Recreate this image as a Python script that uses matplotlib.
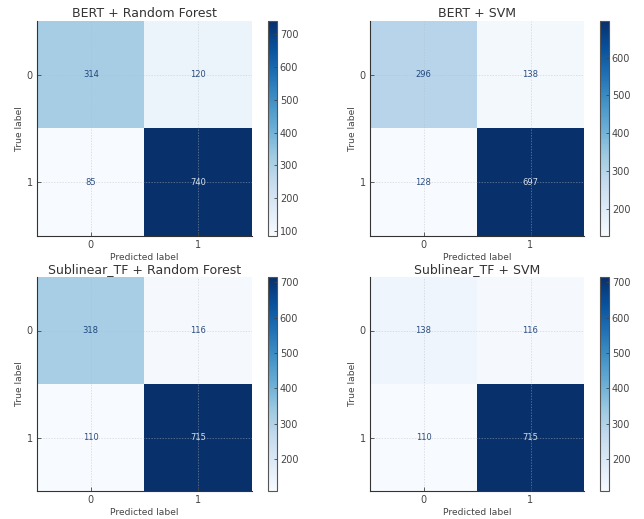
import numpy as np
import matplotlib
matplotlib.use("Agg")
import matplotlib.pyplot as plt

titles = ["BERT + Random Forest", "BERT + SVM",
          "Sublinear_TF + Random Forest", "Sublinear_TF + SVM"]
cm_bert_rf = [[314, 120], [85, 740]]
cm_bert_svm = [[296, 138], [128, 697]]
cm_tf_rf = [[318, 116], [110, 715]]
cm_tf_svm = [[138, 116], [110, 715]]
class_labels = ["0", "1"]
matrices = [cm_bert_rf, cm_bert_svm, cm_tf_rf, cm_tf_svm]

plt.rcParams.update({
    "text.color": "#444444",
    "axes.labelcolor": "#444444",
    "xtick.color": "#444444",
    "ytick.color": "#444444",
    "xtick.direction": "in",
    "ytick.direction": "in",
})

W, H = 644, 519
fig = plt.figure(figsize=(W / 100, H / 100), dpi=100)
cmap = plt.get_cmap("Blues")

# pixel boxes (left, top, width, height)
ax_boxes = [(37, 21, 215, 215), (370, 21, 214, 215),
            (37, 277, 215, 214), (370, 277, 214, 214)]
cb_boxes = [(268, 21, 9, 215), (600, 21, 9, 215),
            (268, 277, 9, 214), (600, 277, 9, 214)]

def to_fig(b):
    l, t, w, h = b
    return [l / W, 1 - (t + h) / H, w / W, h / H]

for cm, title, ab, cb in zip(matrices, titles, ax_boxes, cb_boxes):
    cm = np.array(cm)
    ax = fig.add_axes(to_fig(ab))
    im = ax.imshow(cm, cmap=cmap, vmin=cm.min(), vmax=cm.max(), aspect="auto")
    thresh = (cm.max() + cm.min()) / 2.0
    for i in range(cm.shape[0]):
        for j in range(cm.shape[1]):
            color = cmap(0.0) if cm[i, j] > thresh else cmap(1.0)
            ax.text(j, i, str(cm[i, j]), ha="center", va="center",
                    fontsize=6, color=color, alpha=0.85)
    ax.set_xticks(range(len(class_labels)))
    ax.set_xticklabels(class_labels)
    ax.set_yticks(range(len(class_labels)))
    ax.set_yticklabels(class_labels)
    ax.tick_params(labelsize=7, length=3, width=0.6, pad=3)
    ax.set_xlabel("Predicted label", fontsize=6.6, labelpad=2)
    ax.set_ylabel("True label", fontsize=6.6, labelpad=2)
    ax.set_title(title, fontsize=9, pad=3, color="#333333")
    ax.grid(True, linestyle=(0, (2, 2)), color="#bbbbbb", linewidth=0.5, alpha=0.6)
    for s in ["top", "right"]:
        ax.spines[s].set_visible(False)
    for s in ["left", "bottom"]:
        ax.spines[s].set_color("#333333")
        ax.spines[s].set_linewidth(0.8)
    cax = fig.add_axes(to_fig(cb))
    cbar = fig.colorbar(im, cax=cax)
    cbar.ax.tick_params(labelsize=7, length=2, width=0.6, direction="in", pad=2)
    cbar.outline.set_edgecolor("#555555")
    cbar.outline.set_linewidth(0.8)

fig.savefig("out.png", dpi=100)
